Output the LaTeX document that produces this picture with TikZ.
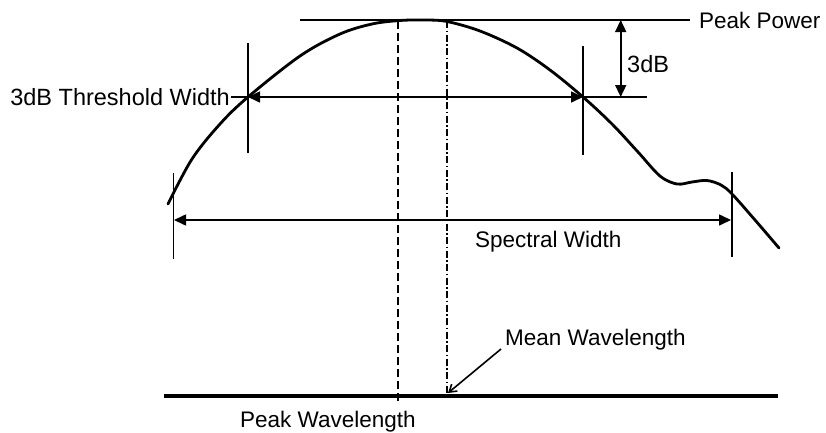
\documentclass[tikz,border=0pt]{standalone}
\usepackage{fontspec}
\setmainfont{Liberation Sans}
\usetikzlibrary{arrows.meta}
\begin{document}
\begin{tikzpicture}[x=1pt,y=-1pt,
  lbl/.style={inner sep=0pt, font=\fontsize{23.5}{28}\selectfont},
  smlbl/.style={inner sep=0pt, font=\fontsize{22.5}{27}\selectfont},
  thinln/.style={line width=1.6pt},
  curveln/.style={line width=2.8pt, line join=round, line cap=round},
  baseln/.style={line width=3.8pt},
  dblarrow/.style={{Triangle[length=12pt,width=11pt]}-{Triangle[length=12pt,width=11pt]}},
  dashedln/.style={line width=1.6pt, dash pattern=on 8pt off 4pt},
  dashdotln/.style={line width=1.6pt, dash pattern=on 7pt off 2.5pt on 1.5pt off 2.5pt},
]
\useasboundingbox (0,0) rectangle (826,432);

% text nodes
\node[smlbl, anchor=base west] (pp) at (699,28) {Peak Power};
\node[lbl, anchor=base west] (db) at (627,72) {3dB};
\node[lbl, anchor=base east] (thr) at (230,105) {3dB Threshold Width};
\node[smlbl, anchor=base west] (spec) at (475,247) {Spectral Width};
\node[smlbl, anchor=base west] (mean) at (505,345) {Mean Wavelength};
\node[smlbl, anchor=base west] (pwl) at (240,427) {Peak Wavelength};

% coordinates
\coordinate (topL) at (300,20);
\coordinate (topR) at (690,20);
\coordinate (thrL) at (248,97);
\coordinate (thrR) at (583,97);
\coordinate (thrTick) at (231,97);
\coordinate (refR) at (647,97);
\coordinate (dbT) at (620.7,20);
\coordinate (dbB) at (620.7,97);
\coordinate (mL1) at (248,43);
\coordinate (mL2) at (248,153);
\coordinate (mR1) at (583,46);
\coordinate (mR2) at (583,155);
\coordinate (sL1) at (173.3,173);
\coordinate (sL2) at (173.3,259);
\coordinate (sR1) at (732,172);
\coordinate (sR2) at (732,257);
\coordinate (sArL) at (174,220);
\coordinate (sArR) at (731,220);
\coordinate (pkT) at (398,21);
\coordinate (pkB) at (398,401);
\coordinate (mnT) at (447,21);
\coordinate (mnB) at (447,394);
\coordinate (baseL) at (164,396);
\coordinate (baseR) at (778,396);
\coordinate (mArS) at (501,349);
\coordinate (mArE) at (448,393);

% peak power line
\draw[thinln] (topL) -- (topR);
% threshold lines
\draw[thinln] (thrTick) -- (thrL);
\draw[thinln] (thrR) -- (refR);
\draw[thinln, dblarrow] (thrL) -- (thrR);
\draw[thinln, dblarrow] (dbT) -- (dbB);
% markers
\draw[thinln] (mL1) -- (mL2);
\draw[thinln] (mR1) -- (mR2);
\draw[thinln] (sL1) -- (sL2);
\draw[thinln] (sR1) -- (sR2);
\draw[thinln, dblarrow] (sArL) -- (sArR);
% vertical wavelength lines
\draw[dashedln] (pkT) -- (pkB);
\draw[dashdotln] (mnT) -- (mnB);
% baseline
\draw[baseln] (baseL) -- (baseR);
% mean wavelength pointer
\draw[thinln, -{Straight Barb[length=7pt,width=9pt]}] (mArS) -- (mArE);

% spectrum curve
\draw[curveln] plot[smooth, tension=0.55] coordinates {
  (168,204) (192,159) (220,124) (248,97) (300,56) (340,34) (372,24)
  (400,20.5) (425,20) (447,21.5) (480,31) (517,48) (550,70) (583,97)
  (612,124) (638,152) (660,176) (677,184) (692,182) (707,180.5)
  (721,185) (732,194) (755,220) (779,248)};
\end{tikzpicture}
\end{document}
